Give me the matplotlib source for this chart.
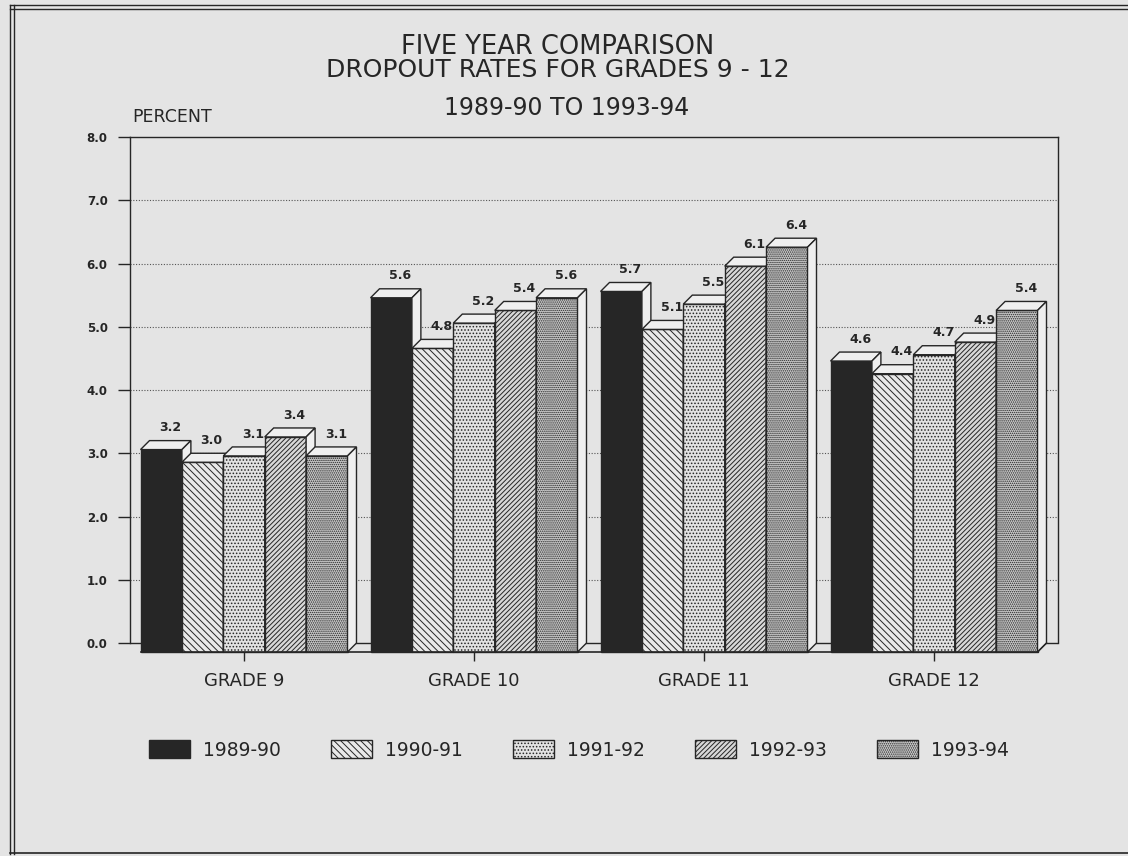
import matplotlib.pyplot as plt
import numpy as np
from matplotlib.patches import Rectangle, Polygon
from matplotlib.lines import Line2D

grades = ['GRADE 9', 'GRADE 10', 'GRADE 11', 'GRADE 12']
years = ['1989-90', '1990-91', '1991-92', '1992-93', '1993-94']

rate_1989_90 = [3.2, 5.6, 5.7, 4.6]
rate_1990_91 = [3.0, 4.8, 5.1, 4.4]
rate_1991_92 = [3.1, 5.2, 5.5, 4.7]
rate_1992_93 = [3.4, 5.4, 6.1, 4.9]
rate_1993_94 = [3.1, 5.6, 6.4, 5.4]

y_ticks = [0, 1, 2, 3, 4, 5, 6, 7, 8]

BG = '#e4e4e4'
INK = '#262626'
FONT = 'DejaVu Sans'

# fill / hatch per school year
styles = [
    {'face': '#262626', 'hatch': None},
    {'face': '#e9e9e9', 'hatch': '\\\\\\\\\\'},
    {'face': '#e2e2e2', 'hatch': '.....'},
    {'face': '#d8d8d8', 'hatch': '///////'},
    {'face': '#cacaca', 'hatch': '........'},
]

W = 0.18      # bar width (5 bars per group)
DX = 0.039    # 3d depth, x units
DY = 0.142    # 3d depth, y units
TOP_FACE = '#efefef'


def draw_bar(ax, x0, value, style, z):
    # front face sits lower/left, back plane is where the value is read
    front = Rectangle((x0, -DY), W, value, facecolor=style['face'], edgecolor=INK,
                      hatch=style['hatch'], lw=1.0, zorder=z, clip_on=False)
    ax.add_patch(front)
    top = Polygon([(x0, value - DY), (x0 + W, value - DY), (x0 + W + DX, value), (x0 + DX, value)],
                  closed=True, facecolor=TOP_FACE, edgecolor=INK, lw=1.0, zorder=z, clip_on=False)
    ax.add_patch(top)
    side = Polygon([(x0 + W, -DY), (x0 + W + DX, 0), (x0 + W + DX, value), (x0 + W, value - DY)],
                   closed=True, facecolor=TOP_FACE, edgecolor=INK, lw=1.0, zorder=z, clip_on=False)
    ax.add_patch(side)
    ax.text(x0 + W / 2 + DX / 2 + 0.02, value + 0.1, f'{value:.1f}', ha='center', va='bottom',
            fontsize=9, fontweight='bold', color=INK, family='DejaVu Sans', zorder=100)


def make_chart():
    plt.rcParams['hatch.linewidth'] = 0.7
    fig = plt.figure(figsize=(11.28, 8.56), dpi=100, facecolor=BG)
    ax = fig.add_axes([130 / 1128, 1 - 652 / 856, 928 / 1128, 515 / 856])
    ax.set_facecolor(BG)
    ax.set_xlim(-0.4957, 3.539)
    ax.set_ylim(-DY, 8.0)

    series = [rate_1989_90, rate_1990_91, rate_1991_92, rate_1992_93, rate_1993_94]
    z = 10
    for g in range(len(grades)):
        for j, vals in enumerate(series):
            x0 = g - 0.45 + j * W
            draw_bar(ax, x0, vals[g], styles[j], z)
            z += 1

    # dotted grid on the back wall
    ax.hlines(y_ticks[1:-1], -0.4957, 3.539, colors='#555555', linestyles=(0, (1, 1.5)), lw=0.8, zorder=1)
    ax.hlines(0, -0.4957, 3.539, colors=INK, lw=1.0, zorder=1)
    # floor edge in front
    last = 3 + 0.45
    ax.plot([-0.45, last], [-DY, -DY], color=INK, lw=1.2, zorder=200, clip_on=False)
    ax.plot([last, last + DX], [-DY, 0], color=INK, lw=1.0, zorder=200, clip_on=False)

    ax.spines['bottom'].set_visible(False)
    ax.spines['left'].set_bounds(0, 8)
    ax.spines['right'].set_bounds(0, 8)
    for s in ['left', 'right', 'top']:
        ax.spines[s].set_color(INK)
        ax.spines[s].set_linewidth(1.0)

    ax.set_yticks(y_ticks)
    ax.set_yticklabels([f'{v:.1f}' for v in y_ticks], fontsize=8.5, fontweight='bold',
                       color=INK, family='DejaVu Sans')
    ax.tick_params(axis='y', length=8.6, width=1.0, color=INK, pad=7.5)
    ax.set_xticks(range(len(grades)))
    ax.set_xticklabels(grades, fontsize=13, color=INK, family=FONT)
    ax.tick_params(axis='x', length=6.5, width=1.0, color=INK, pad=8)

    fig.text(132 / 1128, 1 - 117 / 856, 'PERCENT', fontsize=12.5, color=INK, family=FONT,
             ha='left', va='center')

    # titles
    fig.text(558 / 1128, 1 - 47 / 856, 'FIVE YEAR COMPARISON', fontsize=18.5, color=INK,
             family=FONT, ha='center', va='center')
    fig.text(558 / 1128, 1 - 70 / 856, 'DROPOUT RATES FOR GRADES 9 - 12', fontsize=18,
             color=INK, family=FONT, ha='center', va='center')
    fig.text(567 / 1128, 1 - 108 / 856, '1989-90 TO 1993-94', fontsize=17, color=INK,
             family=FONT, ha='center', va='center')

    # legend, laid out by hand
    for j, name in enumerate(years):
        left = 149 + j * 182
        box = Rectangle((left / 1128, 1 - 758 / 856), 41 / 1128, 18 / 856, transform=fig.transFigure,
                        facecolor=styles[j]['face'], edgecolor=INK, hatch=styles[j]['hatch'], lw=1.0)
        fig.add_artist(box)
        fig.text((left + 54) / 1128, 1 - 750 / 856, name, fontsize=13.5, color=INK, family=FONT,
                 ha='left', va='center')

    # double border of the page
    for x in [10, 14]:
        fig.add_artist(Line2D([x / 1128, x / 1128], [1 - 5 / 856, 1 - 854 / 856],
                              transform=fig.transFigure, color=INK, lw=1.0))
    for y in [5, 9]:
        fig.add_artist(Line2D([10 / 1128, 1.0], [1 - y / 856, 1 - y / 856],
                              transform=fig.transFigure, color=INK, lw=1.0))
    fig.add_artist(Line2D([10 / 1128, 1.0], [1 - 853 / 856, 1 - 853 / 856],
                          transform=fig.transFigure, color=INK, lw=1.2))

    fig.savefig('out.png', dpi=100, facecolor=BG)


if __name__ == '__main__':
    make_chart()
